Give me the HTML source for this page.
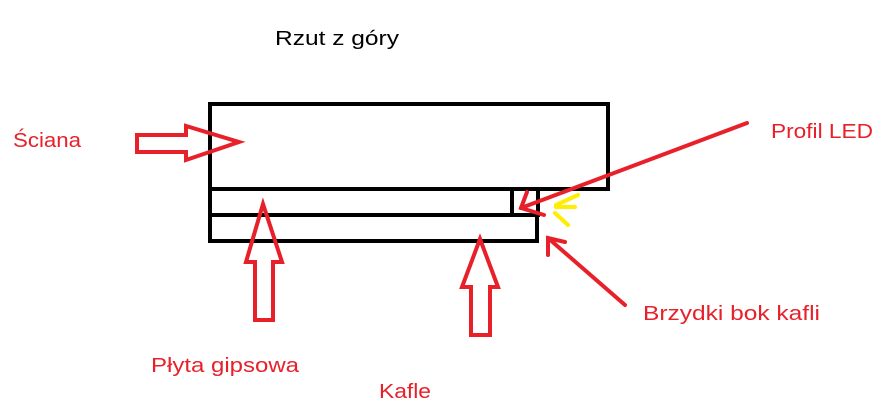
<!DOCTYPE html>
<html><head><meta charset="utf-8"><style>html,body{margin:0;padding:0;background:#fff;width:879px;height:409px;overflow:hidden}</style></head>
<body>
<svg width="879" height="409" viewBox="0 0 879 409" xmlns="http://www.w3.org/2000/svg" font-family="Liberation Sans, sans-serif" font-size="20">
<g fill="none" stroke="#000" stroke-width="4">
<rect x="210" y="104" width="398" height="85"/>
<rect x="210" y="189" width="328" height="26"/>
<line x1="512" y1="189" x2="512" y2="215"/>
<rect x="210" y="215" width="327" height="26"/>
</g>
<g fill="none" stroke="#e8202a" stroke-width="4" stroke-linejoin="miter" stroke-linecap="round">
<polygon points="137,135 186,135 186,126 239,142 186,160 186,152 137,152"/>
<polygon points="263,204 282,262 273,262 273,320 255,320 255,262 246,262"/>
<polygon points="480,239 498,287 490,287 490,335 471,335 471,287 462,287"/>
<line x1="747" y1="123" x2="521" y2="208"/>
<polyline points="527,192 521,208 544,215"/>
<line x1="625" y1="305" x2="548" y2="238"/>
<polyline points="548,255 548,238 565,242"/>
</g>
<g stroke="#ffee00" stroke-width="4" stroke-linecap="round" fill="none">
<line x1="578" y1="195" x2="556" y2="205"/>
<line x1="556" y1="207" x2="575" y2="207"/>
<line x1="555" y1="213" x2="568" y2="225"/>
</g>
<text x="275" y="45" fill="#000" textLength="124" lengthAdjust="spacingAndGlyphs">Rzut z góry</text>
<g fill="#e8202a">
<text x="13" y="147" textLength="68" lengthAdjust="spacingAndGlyphs">Ściana</text>
<text x="771" y="138" textLength="102" lengthAdjust="spacingAndGlyphs">Profil LED</text>
<text x="643" y="320" textLength="177" lengthAdjust="spacingAndGlyphs">Brzydki bok kafli</text>
<text x="151" y="372" textLength="148" lengthAdjust="spacingAndGlyphs">Płyta gipsowa</text>
<text x="379" y="398" textLength="52" lengthAdjust="spacingAndGlyphs">Kafle</text>
</g>
</svg>
</body></html>
